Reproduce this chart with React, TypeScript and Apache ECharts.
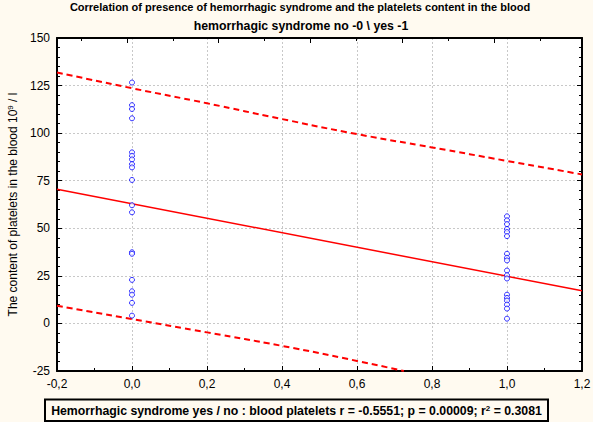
import React, { useEffect, useRef } from "react";
import * as echarts from "echarts";

// Platelet values (10^9 / l)
const groupNoValues = [126.6, 114.7, 112.7, 107.8, 89.9, 88.1, 86.2, 83.7, 82.0, 75.4, 62.1, 58.4, 37.4, 36.6, 22.9, 16.9, 15.1, 10.8, 4.1];
const groupYesValues = [56.3, 54.2, 52.2, 49.6, 48.0, 45.9, 36.6, 34.5, 33.1, 27.8, 25.3, 23.6, 15.1, 13.4, 12.0, 9.9, 7.8, 2.5];
const groupNoX = 0;
const groupYesX = 1;

// Regression line and 95% bands
const regressionX = [-0.2, 1.2];
const regressionY = [70.5, 17.2];
const upperBandX = [-0.2, 0, 0.2, 0.4, 0.6, 0.8, 1.0, 1.2];
const upperBandY = [131.9, 123.6, 115.7, 107.4, 99.5, 92.5, 85.4, 78.3];
const lowerBandX = [-0.2, 0, 0.2, 0.4, 0.6, 0.725];
const lowerBandY = [9.3, 2.3, -4.7, -11.8, -19.7, -25];

// Top frame tick positions (in bottom-axis units)
const topMajorTicks = [-0.013, 0.231, 0.475, 0.72, 0.965];
const topMinorTicks = [-0.136, 0.109, 0.353, 0.597, 0.843, 1.088];

const titleText = "Correlation of presence of hemorrhagic syndrome and the platelets content in the blood";
const subtitleText = "hemorrhagic syndrome no -0 \\ yes -1";
const yAxisName = "The content of platelets in the blood 10{sup|9} / l";
const statsText = "Hemorrhagic syndrome yes / no : blood platelets r = -0.5551; p = 0.00009; r{sup|2} = 0.3081";

const FONT = "'Liberation Sans', Arial, sans-serif";

export default function App() {
  const ref = useRef<HTMLDivElement>(null);

  useEffect(() => {
    document.body.style.margin = "0";
    if (!ref.current) return;
    const chart = echarts.init(ref.current, undefined, { renderer: "svg" });

    const pairs = (xs: number[], ys: number[]) => xs.map((x, i) => [x, ys[i]]);

    const option: any = {
      animation: false,
      backgroundColor: "#fffaf0",
      grid: {
        left: 57,
        right: 11,
        top: 38,
        bottom: 51,
        show: true,
        backgroundColor: "#ffffff",
        borderColor: "#000",
        borderWidth: 1,
        containLabel: false,
        outerBoundsMode: "none",
      },
      xAxis: [
        {
          type: "value",
          min: -0.2,
          max: 1.2,
          interval: 0.2,
          position: "bottom",
          axisLine: { show: true, onZero: false, lineStyle: { color: "#000", width: 2 } },
          axisTick: { show: true, inside: true, length: 5, lineStyle: { color: "#000", width: 1 } },
          minorTick: { show: true, splitNumber: 2, length: 3, lineStyle: { color: "#000", width: 1 } },
          splitLine: { show: true, lineStyle: { color: "#c8c8c8", type: [2, 2], width: 1 } },
          axisLabel: {
            color: "#000",
            fontSize: 12,
            fontFamily: FONT,
            margin: 7,
            formatter: (v: number) => v.toFixed(1).replace(".", ","),
          },
        },
        {
          type: "value",
          min: -0.2,
          max: 1.2,
          position: "top",
          axisLine: { show: true, onZero: false, lineStyle: { color: "#000", width: 2 } },
          axisTick: { show: true, inside: true, length: 5, customValues: topMajorTicks, lineStyle: { color: "#000", width: 1 } },
          axisLabel: { show: false },
          splitLine: { show: false },
        },
        {
          type: "value",
          min: -0.2,
          max: 1.2,
          position: "top",
          axisLine: { show: false, onZero: false },
          axisTick: { show: true, inside: true, length: 3, customValues: topMinorTicks, lineStyle: { color: "#000", width: 1 } },
          axisLabel: { show: false },
          splitLine: { show: false },
        },
      ],
      yAxis: [
        {
          type: "value",
          min: -25,
          max: 150,
          interval: 25,
          position: "left",
          axisLine: { show: true, onZero: false, lineStyle: { color: "#000", width: 2 } },
          axisTick: { show: true, inside: true, length: 5, lineStyle: { color: "#000", width: 1 } },
          minorTick: { show: true, splitNumber: 5, length: 3, lineStyle: { color: "#000", width: 1 } },
          splitLine: { show: true, lineStyle: { color: "#c8c8c8", type: [2, 2], width: 1 } },
          axisLabel: { color: "#000", fontSize: 12, fontFamily: FONT, margin: 7 },
          name: yAxisName,
          nameLocation: "middle",
          nameGap: 32,
          nameRotate: 90,
          nameTextStyle: {
            color: "#000",
            fontSize: 12,
            fontFamily: FONT,
            rich: {
              sup: { fontSize: 8, fontFamily: FONT, color: "#000", verticalAlign: "top", padding: [0, 0, 6, 0] },
            },
          },
        },
        {
          type: "value",
          min: -25,
          max: 150,
          interval: 25,
          position: "right",
          axisLine: { show: true, onZero: false, lineStyle: { color: "#000", width: 2 } },
          axisTick: { show: true, inside: true, length: 5, lineStyle: { color: "#000", width: 1 } },
          minorTick: { show: true, splitNumber: 5, length: 3, lineStyle: { color: "#000", width: 1 } },
          splitLine: { show: false },
          axisLabel: { show: false },
        },
      ],
      series: [
        {
          type: "line",
          data: pairs(upperBandX, upperBandY),
          smooth: true,
          symbol: "none",
          lineStyle: { color: "#ff0000", width: 2, type: [6, 4] },
          clip: true,
          z: 3,
        },
        {
          type: "line",
          data: pairs(lowerBandX, lowerBandY),
          smooth: true,
          symbol: "none",
          lineStyle: { color: "#ff0000", width: 2, type: [6, 4] },
          clip: true,
          z: 3,
        },
        {
          type: "line",
          data: pairs(regressionX, regressionY),
          symbol: "none",
          lineStyle: { color: "#ff0000", width: 1.5 },
          z: 3,
        },
        {
          type: "scatter",
          data: groupNoValues.map((v) => [groupNoX, v]),
          symbol: "circle",
          symbolSize: 5,
          itemStyle: { color: "#ffffff", borderColor: "#0000ff", borderWidth: 1 },
          z: 4,
        },
        {
          type: "scatter",
          data: groupYesValues.map((v) => [groupYesX, v]),
          symbol: "circle",
          symbolSize: 5,
          itemStyle: { color: "#ffffff", borderColor: "#0000ff", borderWidth: 1 },
          z: 4,
        },
      ],
      graphic: [
        {
          type: "text",
          x: 300,
          y: 1,
          style: {
            text: titleText,
            fill: "#000",
            font: `bold 11px ${FONT}`,
            align: "center",
            verticalAlign: "top",
          },
        },
        {
          type: "text",
          x: 301,
          y: 26,
          style: {
            text: subtitleText,
            fill: "#000",
            font: `bold 12.3px ${FONT}`,
            align: "center",
            verticalAlign: "middle",
          },
        },
        {
          type: "rect",
          shape: { x: 45, y: 399.5, width: 503, height: 21.5 },
          style: { fill: "none", stroke: "#000", lineWidth: 2 },
        },
        {
          type: "text",
          x: 296.5,
          y: 410.5,
          style: {
            text: statsText,
            fill: "#000",
            font: `bold 12.3px ${FONT}`,
            align: "center",
            verticalAlign: "middle",
            rich: {
              sup: { font: `bold 8px ${FONT}`, fill: "#000", verticalAlign: "top", padding: [0, 0, 5, 0] },
            },
          },
        },
      ],
    };

    chart.setOption(option);
    return () => chart.dispose();
  }, []);

  return <div ref={ref} style={{ width: 593, height: 422 }} />;
}
